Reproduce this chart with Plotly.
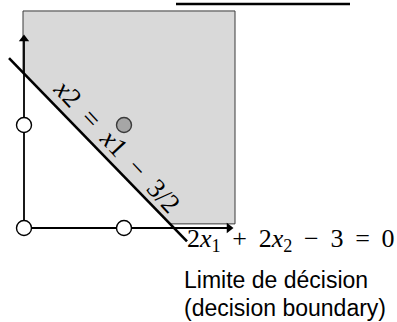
import plotly.graph_objects as go

# Inputs of the 2-input perceptron (AND-like problem)
x1_points = [0, 1, 0, 1]
x2_points = [0, 0, 1, 1]
labels = [0, 0, 0, 1]

# Decision boundary: w1*x1 + w2*x2 + b = 0
w = [2, 2]
b = -3

line_x1 = [-0.15, 1.63]


def boundary_x2(x1):
    return (-b - w[0] * x1) / w[1]


fig = go.Figure()

# Positive half-plane (shaded), clipped to the drawing box
left, right, bottom, top = -0.01, 2.11, 0.04, 2.107
poly = [
    (left, top),
    (right, top),
    (right, bottom),
    ((-b - w[1] * bottom) / w[0], bottom),
    (left, boundary_x2(left)),
]
path = "M " + " L ".join(f"{px},{py}" for px, py in poly) + " Z"
fig.add_shape(type="path", path=path, xref="x", yref="y",
              fillcolor="#d9d9d9", line=dict(color="#3a3a3a", width=1), layer="below")

# Decoration line at the top
fig.add_shape(type="line", x0=1.52, x1=3.26, y0=2.175, y1=2.175,
              xref="x", yref="y", line=dict(color="black", width=2.5))

# Axes: shafts then arrow heads
axis_style = dict(color="black", width=1.8)
fig.add_trace(go.Scatter(x=[0, 2.05], y=[0, 0], mode="lines", line=axis_style,
                         hoverinfo="skip", showlegend=False))
fig.add_trace(go.Scatter(x=[0, 0], y=[0, 1.84], mode="lines", line=axis_style,
                         hoverinfo="skip", showlegend=False))
fig.add_trace(go.Scatter(x=[2.05, 0], y=[0, 1.835], mode="markers",
                         marker=dict(symbol=["triangle-right", "triangle-up"], size=9,
                                     color="black", line=dict(width=0)),
                         hoverinfo="skip", showlegend=False))

# Decision boundary line
fig.add_trace(go.Scatter(
    x=line_x1, y=[boundary_x2(v) for v in line_x1], mode="lines",
    line=dict(color="black", width=2.6), hoverinfo="skip", showlegend=False))

# Input points: open for class 0, grey for class 1
fig.add_trace(go.Scatter(
    x=x1_points, y=x2_points, mode="markers",
    marker=dict(size=15,
                color=["#a6a6a6" if c else "white" for c in labels],
                line=dict(color=["#3a3a3a" if c else "black" for c in labels], width=1.4)),
    hoverinfo="skip", showlegend=False))

# Label along the boundary
fig.add_annotation(x=0.93, y=0.80, xref="x", yref="y", showarrow=False, textangle=47,
                   text="<i>x</i>2\u00a0\u00a0=\u00a0\u00a0<i>x</i>1\u00a0\u00a0−\u00a0\u00a03/2",
                   font=dict(family="Liberation Serif", size=27, color="black"))

# Boundary equation
ts = "\u2009"
fig.add_annotation(x=1.61, y=-0.12, xref="x", yref="y", showarrow=False, xanchor="left",
                   text=f"2<i>x</i><sub>1</sub> {ts}+{ts} 2<i>x</i><sub>2</sub> {ts}−{ts} 3 {ts}={ts} 0",
                   font=dict(family="Liberation Serif", size=26, color="black"))

fig.add_annotation(x=1.58, y=-0.505, xref="x", yref="y", showarrow=False, xanchor="left",
                   text="Limite de décision",
                   font=dict(family="Liberation Sans", size=23, color="black"))
fig.add_annotation(x=1.58, y=-0.78, xref="x", yref="y", showarrow=False, xanchor="left",
                   text="(decision boundary)",
                   font=dict(family="Liberation Sans", size=23, color="black"))

fig.update_xaxes(range=[-0.24, 3.73], visible=False, showgrid=False, zeroline=False)
fig.update_yaxes(range=[-0.9126, 2.2136], visible=False, showgrid=False, zeroline=False)
fig.update_layout(width=397, height=322, autosize=False,
                  margin=dict(l=0, r=0, t=0, b=0),
                  plot_bgcolor="white", paper_bgcolor="white")

fig.write_html("out.html", config={"displayModeBar": False})
